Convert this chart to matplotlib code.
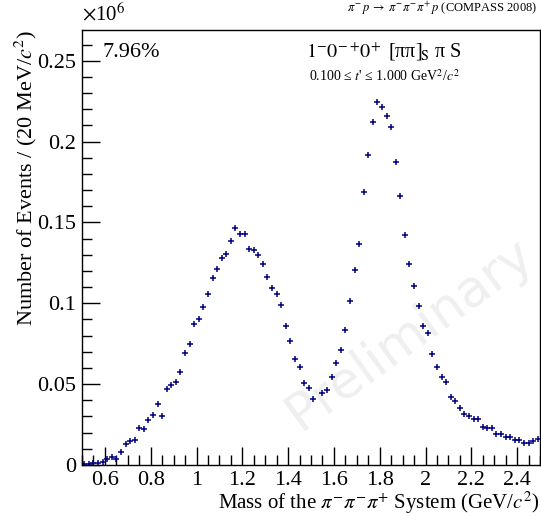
import numpy as np
import matplotlib
matplotlib.use("Agg")
import matplotlib.pyplot as plt
from matplotlib.ticker import MultipleLocator

plt.rcParams["font.family"] = ["Liberation Serif", "DejaVu Serif"]
plt.rcParams["mathtext.fontset"] = "stix"

# 20 MeV bins from 0.5 to 2.5 GeV/c^2 (bin 51 has no entry)
bin_lo = 0.5
bin_width = 0.02
events = [
    0.0005, 0.0005, 0.001, 0.0015, 0.002, 0.0035, 0.005, 0.004, 0.008, 0.0132,
    0.0150, 0.0153, 0.0231, 0.0221, 0.0276, 0.0309, 0.0377, 0.0305, 0.0472, 0.0493,
    0.0513, 0.0577, 0.0695, 0.0746, 0.0872, 0.0901, 0.0978, 0.1057, 0.1159, 0.1214,
    0.1278, 0.1307, 0.1383, 0.1466, 0.1430, 0.1427, 0.1338, 0.1330, 0.1299, 0.1243,
    0.1163, 0.1096, 0.1060, 0.0989, 0.0862, 0.0769, 0.0656, 0.0608, 0.0505, 0.0474,
    0.0407, np.nan, 0.0447, 0.0466, 0.0542, 0.0633, 0.0713, 0.0832, 0.1012, 0.1206,
    0.1367, 0.1688, 0.1917, 0.2123, 0.2245, 0.2212, 0.2157, 0.2088, 0.1872, 0.1664,
    0.1424, 0.1243, 0.1105, 0.0983, 0.0858, 0.0816, 0.0684, 0.0608, 0.0544, 0.0513,
    0.0419, 0.0398, 0.0353, 0.0313, 0.0303, 0.0287, 0.0287, 0.0237, 0.0229, 0.0227,
    0.0192, 0.0194, 0.0175, 0.0173, 0.0153, 0.0153, 0.0134, 0.0138, 0.0150, 0.0161,
]
mass = bin_lo + bin_width * (np.arange(len(events)) + 0.5)

fig = plt.figure(figsize=(5.41, 5.16), dpi=100)
ax = fig.add_axes([82 / 541, 51 / 516, 458 / 541, 435 / 516])

ax.plot(mass, events, linestyle="none", marker="+", markersize=4.5,
        markeredgewidth=1.1, color="#000080")

ax.set_xlim(0.5, 2.5)
ax.set_ylim(0, 0.269)

ax.xaxis.set_major_locator(MultipleLocator(0.2))
ax.xaxis.set_minor_locator(MultipleLocator(0.05))
ax.yaxis.set_major_locator(MultipleLocator(0.05))
ax.yaxis.set_minor_locator(MultipleLocator(0.01))
ax.tick_params(which="both", direction="in", top=False, right=False,
               labelsize=16, width=1, color="black")
ax.tick_params(which="major", length=13, pad=4)
ax.tick_params(which="minor", length=7)

def fmt(v, _):
    return f"{v:.2f}".rstrip("0").rstrip(".")
ax.xaxis.set_major_formatter(plt.FuncFormatter(fmt))
ax.yaxis.set_major_formatter(plt.FuncFormatter(fmt))

for sp in ax.spines.values():
    sp.set_linewidth(1)

ax.set_xlabel(r"Mass of the $\pi^{-}\pi^{-}\pi^{+}$ System (GeV/$c^{2}$)",
              fontsize=15, loc="right", labelpad=0)
ax.set_ylabel(r"Number of Events / (20 MeV/$c^{2}$)", fontsize=16,
              loc="top", labelpad=-1)

fig.text(82 / 541, 1 - 20 / 516, r"$\times$10$^{6}$", fontsize=15,
         ha="left", va="baseline")
ax.text(0.045, 0.97, "7.96%", transform=ax.transAxes, fontsize=16,
        ha="left", va="top")
ax.text(0.658, 0.975,
        r"$\mathrm{1^{\!-}\!0^{\!-\!+}\!0^{\!+}}$ [ππ]$_{\!\mathrm{S}}$ π S",
        transform=ax.transAxes, fontsize=14.5, ha="center", va="top")
ax.text(0.66, 0.912, r"0.100 ≤ $t$' ≤ 1.000 GeV$^{2}$/$c^{2}$",
        transform=ax.transAxes, fontsize=10, ha="center", va="top")
fig.text(537 / 541, 1 - 12 / 516,
         r"$\pi^{-}\,p\;\rightarrow\;\pi^{-}\pi^{-}\pi^{+}\,p$ (COMPASS 2008)",
         fontsize=9, ha="right", va="baseline")

ax.text(0.715, 0.30, "Preliminary", transform=ax.transAxes,
        fontsize=37, family="DejaVu Sans", color="#efefef",
        rotation=36, ha="center", va="center", zorder=0)

fig.savefig("out.png", dpi=100)
